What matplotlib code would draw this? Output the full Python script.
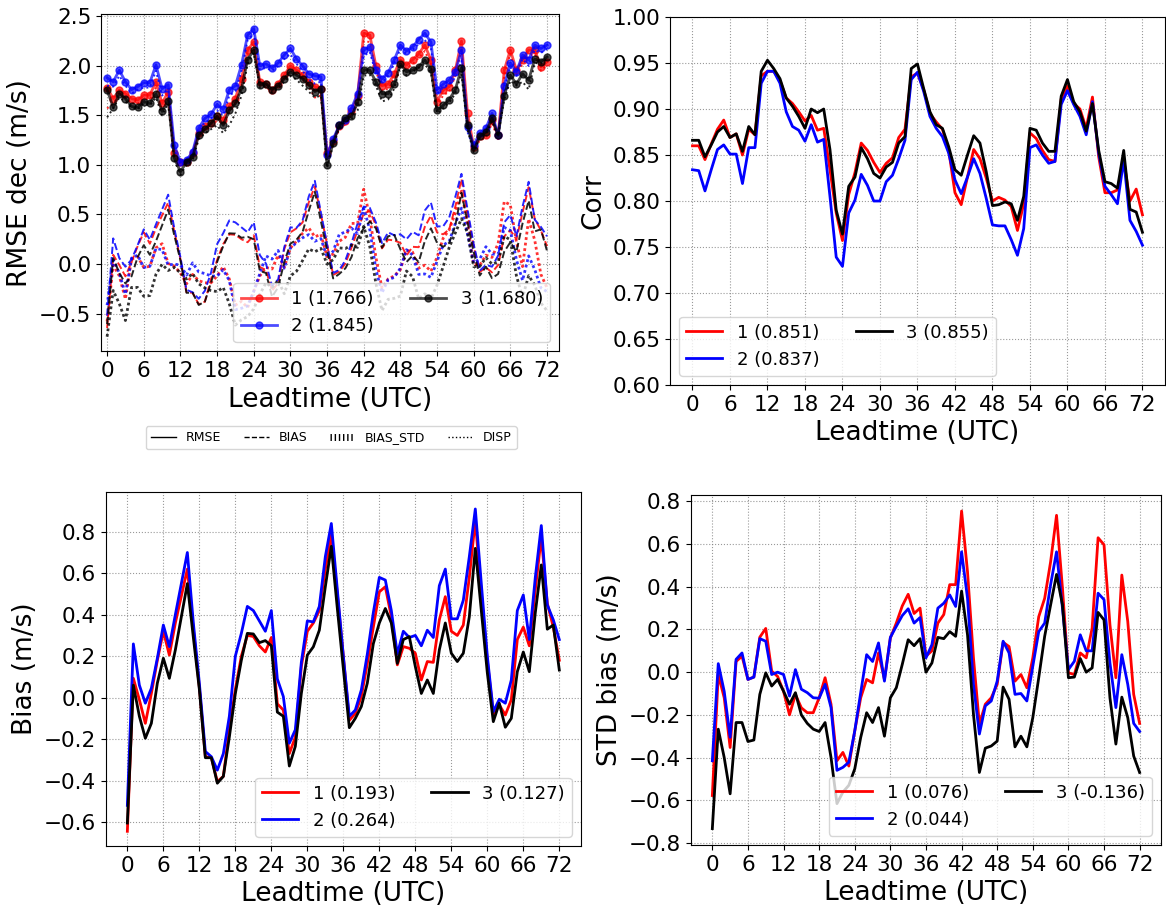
import numpy as np
import matplotlib
matplotlib.use("Agg")
import matplotlib.pyplot as plt
from matplotlib.lines import Line2D
from matplotlib.ticker import MultipleLocator

# Leadtime axis (hourly, 0..72 UTC)
leadtime = np.arange(0, 73)
xticks = list(range(0, 73, 6))

exp_names = ["1", "2", "3"]
exp_colors = ["red", "blue", "black"]

# RMSE (m/s)
rmse_1 = [1.78, 1.67, 1.755, 1.72, 1.67, 1.655, 1.705, 1.705, 1.84, 1.62, 1.74, 1.12, 1.03, 1.03, 1.12, 1.32, 1.39, 1.42, 1.49, 1.45,
          1.59, 1.67, 1.87, 2.16, 2.24, 1.84, 1.82, 1.76, 1.82, 1.906, 2.00, 1.956, 1.906, 1.84, 1.79, 1.77, 1.12,
          1.24, 1.39, 1.44, 1.54, 1.70, 2.33, 2.31, 2.00, 1.80, 1.815, 1.92, 2.06, 2.007, 2.06, 2.12, 2.21, 2.06, 1.64, 1.755,
          1.79, 1.956, 2.25, 1.52, 1.18, 1.29, 1.30, 1.45, 1.30, 1.956, 2.16, 1.956, 2.06, 2.16, 2.16, 1.99, 2.04]
rmse_2 = [1.88, 1.84, 1.956, 1.84, 1.76, 1.79, 1.83, 1.83, 2.01, 1.77, 1.81, 1.20, 1.03, 1.05, 1.13, 1.37, 1.47, 1.51, 1.61, 1.56,
          1.76, 1.80, 2.01, 2.31, 2.375, 2.00, 2.02, 1.98, 2.03, 2.11, 2.175, 2.07, 2.00, 1.92, 1.90, 1.89, 1.10,
          1.26, 1.40, 1.45, 1.57, 1.72, 2.16, 2.19, 1.956, 1.87, 1.93, 2.06, 2.21, 2.15, 2.19, 2.265, 2.33, 2.24, 1.76, 1.815,
          1.856, 1.94, 2.16, 1.386, 1.20, 1.32, 1.37, 1.52, 1.30, 1.80, 2.03, 1.94, 2.11, 2.06, 2.21, 2.175, 2.21]
rmse_3 = [1.76, 1.58, 1.72, 1.67, 1.59, 1.58, 1.64, 1.62, 1.72, 1.54, 1.65, 1.07, 0.93, 1.03, 1.08, 1.30, 1.36, 1.42, 1.49, 1.40,
          1.55, 1.62, 1.77, 2.06, 2.16, 1.81, 1.82, 1.76, 1.80, 1.87, 1.94, 1.906, 1.87, 1.81, 1.74, 1.77, 1.00,
          1.22, 1.40, 1.47, 1.49, 1.63, 1.96, 1.956, 1.84, 1.72, 1.72, 1.815, 2.02, 1.94, 1.956, 1.99, 2.06, 1.97, 1.55, 1.60,
          1.66, 1.76, 1.98, 1.40, 1.15, 1.29, 1.33, 1.47, 1.30, 1.70, 1.906, 1.815, 1.92, 1.856, 2.07, 2.04, 2.09]

# DISP (m/s)
disp_1 = [1.57, 1.62, 1.72, 1.68, 1.62, 1.62, 1.67, 1.66, 1.78, 1.55, 1.69, 1.10, 1.00, 1.01, 1.08, 1.28, 1.36, 1.38, 1.45, 1.42,
          1.53, 1.62, 1.80, 2.10, 2.18, 1.80, 1.79, 1.73, 1.79, 1.87, 1.96, 1.92, 1.86, 1.79, 1.68, 1.70, 1.09,
          1.20, 1.36, 1.41, 1.50, 1.62, 2.25, 2.24, 1.95, 1.75, 1.77, 1.88, 2.02, 1.97, 2.02, 2.08, 2.15, 2.01, 1.60, 1.70,
          1.74, 1.90, 2.16, 1.46, 1.14, 1.25, 1.27, 1.42, 1.26, 1.90, 2.12, 1.91, 2.02, 2.10, 2.12, 1.95, 2.01]
disp_2 = [1.80, 1.79, 1.90, 1.80, 1.72, 1.76, 1.78, 1.78, 1.95, 1.70, 1.76, 1.15, 1.00, 1.03, 1.10, 1.33, 1.43, 1.46, 1.55, 1.50,
          1.70, 1.74, 1.95, 2.26, 2.33, 1.96, 1.98, 1.95, 2.00, 2.07, 2.12, 2.02, 1.95, 1.86, 1.82, 1.84, 1.08,
          1.24, 1.38, 1.43, 1.53, 1.64, 2.10, 2.14, 1.92, 1.83, 1.90, 2.02, 2.17, 2.12, 2.16, 2.22, 2.26, 2.18, 1.72, 1.78,
          1.82, 1.88, 2.05, 1.33, 1.17, 1.29, 1.35, 1.49, 1.27, 1.77, 1.99, 1.90, 2.07, 2.00, 2.16, 2.13, 2.17]
disp_3 = [1.48, 1.57, 1.68, 1.64, 1.58, 1.56, 1.62, 1.60, 1.68, 1.50, 1.62, 1.05, 0.90, 1.00, 1.05, 1.26, 1.32, 1.36, 1.40, 1.32,
          1.40, 1.52, 1.70, 2.02, 2.13, 1.78, 1.80, 1.73, 1.77, 1.84, 1.90, 1.86, 1.80, 1.74, 1.68, 1.70, 0.97,
          1.20, 1.37, 1.44, 1.46, 1.55, 1.90, 1.91, 1.80, 1.64, 1.66, 1.77, 2.00, 1.90, 1.94, 1.98, 2.02, 1.93, 1.52, 1.57,
          1.63, 1.72, 1.92, 1.35, 1.13, 1.27, 1.31, 1.44, 1.29, 1.66, 1.85, 1.80, 1.84, 1.76, 2.03, 2.02, 2.07]

# Correlation
corr_1 = [0.860, 0.860, 0.845, 0.862, 0.878, 0.888, 0.869, 0.873, 0.850, 0.878, 0.872, 0.936, 0.941, 0.941, 0.931, 0.912, 0.906,
          0.897, 0.887, 0.893, 0.877, 0.879, 0.834, 0.787, 0.757, 0.807, 0.831, 0.863, 0.855, 0.842, 0.831, 0.841, 0.847,
          0.869, 0.878, 0.935, 0.939,
          0.921, 0.895, 0.886, 0.878, 0.855, 0.809, 0.796, 0.826, 0.856, 0.846, 0.825, 0.800, 0.804, 0.801, 0.794, 0.768,
          0.797, 0.874, 0.868, 0.855, 0.845, 0.843, 0.911, 0.925, 0.906, 0.900, 0.879, 0.913, 0.848, 0.809, 0.809, 0.812,
          0.845, 0.800, 0.813, 0.785]
corr_2 = [0.834, 0.833, 0.811, 0.834, 0.856, 0.861, 0.851, 0.851, 0.819, 0.858, 0.858, 0.928, 0.941, 0.941, 0.928, 0.897, 0.881,
          0.877, 0.865, 0.883, 0.864, 0.867, 0.805, 0.739, 0.729, 0.787, 0.801, 0.829, 0.817, 0.800, 0.800, 0.821, 0.828,
          0.846, 0.866, 0.932, 0.940,
          0.919, 0.892, 0.879, 0.870, 0.852, 0.823, 0.808, 0.826, 0.846, 0.830, 0.803, 0.774, 0.773, 0.773, 0.758, 0.741,
          0.770, 0.858, 0.861, 0.850, 0.841, 0.843, 0.905, 0.920, 0.905, 0.892, 0.872, 0.908, 0.852, 0.816, 0.807, 0.797,
          0.845, 0.779, 0.767, 0.752]
corr_3 = [0.866, 0.866, 0.848, 0.861, 0.875, 0.881, 0.869, 0.873, 0.854, 0.881, 0.872, 0.941, 0.953, 0.944, 0.933, 0.912, 0.903,
          0.892, 0.879, 0.900, 0.896, 0.900, 0.856, 0.790, 0.764, 0.816, 0.826, 0.858, 0.846, 0.830, 0.825, 0.837, 0.842,
          0.863, 0.870, 0.944, 0.949,
          0.922, 0.897, 0.883, 0.879, 0.859, 0.834, 0.828, 0.850, 0.871, 0.863, 0.832, 0.795, 0.796, 0.799, 0.797, 0.779,
          0.805, 0.879, 0.877, 0.863, 0.854, 0.854, 0.914, 0.932, 0.908, 0.897, 0.876, 0.906, 0.855, 0.821, 0.819, 0.814,
          0.855, 0.791, 0.788, 0.766]

# Bias (m/s)
bias_1 = [-0.645, 0.093, -0.01, -0.124, 0.02, 0.18, 0.32, 0.205, 0.36, 0.49, 0.62, 0.33, 0.05, -0.285, -0.29, -0.405, -0.38,
          -0.155, 0.04, 0.20, 0.30, 0.295, 0.25, 0.22, 0.29, -0.03, -0.06, -0.27, -0.19, 0.15, 0.32, 0.36, 0.42, 0.62, 0.785,
          0.50, 0.20,
          -0.11, -0.076, 0.005, 0.165, 0.34, 0.51, 0.535, 0.39, 0.158, 0.246, 0.238, 0.214, 0.085, 0.174, 0.17, 0.375, 0.487,
          0.32, 0.30, 0.35, 0.58, 0.857, 0.50, 0.18, -0.08, -0.035, -0.084, -0.01, 0.28, 0.34, 0.25, 0.52, 0.775, 0.455,
          0.34, 0.18]
bias_2 = [-0.52, 0.259, 0.06, -0.027, 0.045, 0.19, 0.35, 0.246, 0.40, 0.55, 0.70, 0.36, 0.07, -0.26, -0.285, -0.35, -0.27,
          -0.09, 0.20, 0.31, 0.44, 0.42, 0.37, 0.32, 0.42, 0.09, 0.005, -0.22, -0.155, 0.17, 0.37, 0.365, 0.44, 0.68, 0.84,
          0.52, 0.20,
          -0.09, -0.06, 0.037, 0.21, 0.41, 0.58, 0.567, 0.42, 0.21, 0.32, 0.29, 0.30, 0.25, 0.325, 0.29, 0.54, 0.62,
          0.38, 0.38, 0.47, 0.68, 0.91, 0.55, 0.20, -0.068, -0.008, -0.027, 0.085, 0.42, 0.495, 0.28, 0.58, 0.83, 0.447,
          0.375, 0.28]
bias_3 = [-0.605, 0.06, -0.09, -0.196, -0.124, 0.07, 0.19, 0.093, 0.23, 0.39, 0.55, 0.29, 0.04, -0.29, -0.29, -0.413, -0.38,
          -0.19, 0.02, 0.18, 0.31, 0.307, 0.265, 0.275, 0.25, -0.07, -0.09, -0.33, -0.235, 0.02, 0.205, 0.245, 0.325, 0.535,
          0.73, 0.43, 0.14,
          -0.145, -0.10, -0.043, 0.07, 0.26, 0.36, 0.43, 0.36, 0.165, 0.28, 0.294, 0.15, 0.02, 0.085, 0.02, 0.23, 0.36,
          0.214, 0.174, 0.214, 0.39, 0.72, 0.42, 0.12, -0.116, -0.027, -0.143, -0.10, 0.125, 0.22, 0.125, 0.41, 0.64, 0.33,
          0.35, 0.133]

# STD bias (m/s)
std_1 = [-0.578, -0.01, -0.12, -0.353, 0.05, 0.075, -0.034, -0.023, 0.164, 0.205, 0.005, -0.02, -0.09, -0.20, -0.105, -0.167,
         -0.19, -0.19, -0.12, -0.026, -0.15, -0.415, -0.376, -0.44, -0.275, -0.12, -0.034, -0.05, 0.09, -0.034, 0.16, 0.23,
         0.31, 0.365, 0.275, 0.30, 0.075,
         0.10, 0.23, 0.27, 0.41, 0.41, 0.755, 0.47, 0.067, -0.244, -0.15, -0.12, -0.057, 0.14, 0.12, -0.042, -0.011, -0.073,
         0.067, 0.26, 0.346, 0.517, 0.735, 0.393, -0.003, -0.011, 0.09, 0.067, 0.207, 0.63, 0.597, 0.222, -0.026, 0.455,
         0.238, -0.104, -0.24]
std_2 = [-0.415, 0.04, -0.09, -0.305, 0.06, 0.09, -0.034, -0.023, 0.157, 0.145, -0.011, 0.0, -0.011, -0.112, 0.012, -0.08,
         -0.096, -0.12, -0.122, -0.057, -0.166, -0.46, -0.446, -0.422, -0.275, -0.096, 0.082, 0.05, 0.137, -0.042, 0.163,
         0.215, 0.265, 0.297, 0.23, 0.256, 0.067,
         0.129, 0.30, 0.323, 0.362, 0.308, 0.564, 0.346, -0.057, -0.29, -0.158, -0.135, -0.042, 0.145, 0.09, -0.104, -0.10,
         -0.135, 0.028, 0.19, 0.23, 0.41, 0.564, 0.30, 0.012, 0.051, 0.175, 0.10, 0.10, 0.37, 0.34, 0.043, -0.166, 0.082,
         -0.057, -0.24, -0.278]
std_3 = [-0.733, -0.267, -0.40, -0.57, -0.236, -0.236, -0.325, -0.318, -0.104, -0.003, -0.065, -0.034, -0.089, -0.15, -0.096,
         -0.20, -0.24, -0.267, -0.278, -0.236, -0.40, -0.616, -0.562, -0.53, -0.453, -0.306, -0.19, -0.236, -0.166, -0.30,
         -0.12, -0.073, 0.036, 0.152, 0.124, 0.157, 0.0,
         0.043, 0.163, 0.157, 0.19, 0.168, 0.38, 0.175, -0.197, -0.47, -0.356, -0.346, -0.323, -0.07, -0.127, -0.35, -0.30,
         -0.35, -0.213, -0.026, 0.168, 0.315, 0.458, 0.315, -0.026, -0.023, 0.064, 0.0, 0.02, 0.28, 0.245, -0.12, -0.337,
         -0.117, -0.213, -0.393, -0.47]

# scores shown in legends
rmse_scores = ["1.766", "1.845", "1.680"]
corr_scores = ["0.851", "0.837", "0.855"]
bias_scores = ["0.193", "0.264", "0.127"]
std_scores = ["0.076", "0.044", "-0.136"]

TICK_FS = 15.5
LABEL_FS = 19
LEG_FS = 13


def style_axis(ax, ylabel):
    ax.set_xticks(xticks)
    ax.tick_params(labelsize=TICK_FS)
    ax.set_xlabel("Leadtime (UTC)", fontsize=LABEL_FS)
    ax.set_ylabel(ylabel, fontsize=LABEL_FS)
    ax.grid(True, linestyle=":", color="gray", linewidth=0.8, alpha=0.8)
    ax.set_axisbelow(True)


fig = plt.figure(figsize=(11.66, 9.10), dpi=100)

ax_rmse = fig.add_axes([0.0866, 0.614, 0.393, 0.3703])
ax_corr = fig.add_axes([0.5746, 0.5769, 0.4245, 0.4044])
ax_bias = fig.add_axes([0.0907, 0.0703, 0.4075, 0.3893])
ax_std = fig.add_axes([0.5926, 0.0714, 0.4031, 0.3846])

rmse_all = [rmse_1, rmse_2, rmse_3]
disp_all = [disp_1, disp_2, disp_3]
bias_all = [bias_1, bias_2, bias_3]
std_all = [std_1, std_2, std_3]
corr_all = [corr_1, corr_2, corr_3]

# RMSE decomposition panel
for i, c in enumerate(exp_colors):
    ax_rmse.plot(leadtime, rmse_all[i], color=c, lw=2, marker="o", ms=5, alpha=0.7,
                 label=f"{exp_names[i]} ({rmse_scores[i]})")
    ax_rmse.plot(leadtime, bias_all[i], color=c, lw=1.4, ls="--", alpha=0.85)
    ax_rmse.plot(leadtime, std_all[i], color=c, lw=2, ls=(0, (1, 1)), alpha=0.8)
    ax_rmse.plot(leadtime, disp_all[i], color=c, lw=1.4, ls=":", alpha=0.85)
ax_rmse.set_xlim(-1, 74)
ax_rmse.set_ylim(-0.88, 2.52)
ax_rmse.set_yticks([-0.5, 0.0, 0.5, 1.0, 1.5, 2.0, 2.5])
style_axis(ax_rmse, "RMSE dec (m/s)")
ax_rmse.legend(loc="lower right", ncol=2, fontsize=LEG_FS)

# linestyle key for the decomposition panel
style_handles = [
    Line2D([], [], color="black", lw=1, ls="-"),
    Line2D([], [], color="black", lw=1, ls="--"),
    Line2D([], [], color="black", lw=5, ls=(0, (0.2, 0.4))),
    Line2D([], [], color="black", lw=1, ls=":"),
]
fig.legend(style_handles, ["RMSE", "BIAS", "BIAS_STD", "DISP"], loc="center",
           bbox_to_anchor=(0.284, 0.519), ncol=4, fontsize=9, handlelength=2.0, columnspacing=1.8)

# Correlation
for i, c in enumerate(exp_colors):
    ax_corr.plot(leadtime, corr_all[i], color=c, lw=2, label=f"{exp_names[i]} ({corr_scores[i]})")
ax_corr.set_ylim(0.6, 1.0)
style_axis(ax_corr, "Corr")
ax_corr.legend(loc="lower left", ncol=2, fontsize=LEG_FS)

# Bias
for i, c in enumerate(exp_colors):
    ax_bias.plot(leadtime, bias_all[i], color=c, lw=2, label=f"{exp_names[i]} ({bias_scores[i]})")
ax_bias.set_ylim(-0.716, 0.993)
ax_bias.yaxis.set_major_locator(MultipleLocator(0.2))
style_axis(ax_bias, "Bias (m/s)")
ax_bias.legend(loc="lower right", ncol=2, fontsize=LEG_FS)

# STD bias
for i, c in enumerate(exp_colors):
    ax_std.plot(leadtime, std_all[i], color=c, lw=2, label=f"{exp_names[i]} ({std_scores[i]})")
ax_std.set_ylim(-0.81, 0.83)
ax_std.yaxis.set_major_locator(MultipleLocator(0.2))
style_axis(ax_std, "STD bias (m/s)")
ax_std.legend(loc="lower right", ncol=2, fontsize=LEG_FS)

fig.savefig("out.png", dpi=100)
